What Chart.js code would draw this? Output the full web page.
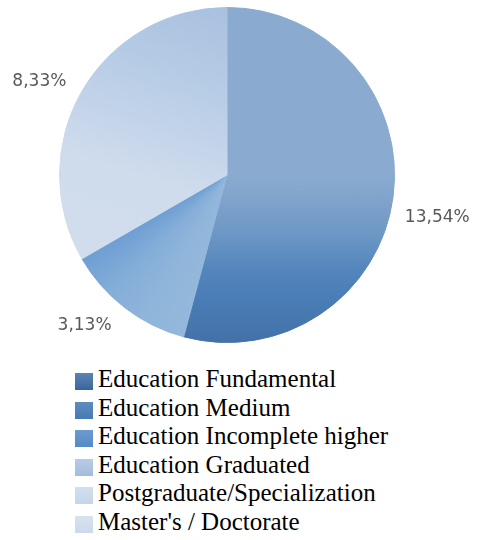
<!DOCTYPE html>
<html>
<head>
<meta charset="utf-8">
<script src="https://cdn.jsdelivr.net/npm/chart.js@4/dist/chart.umd.min.js"></script>
<style>
  html, body { margin: 0; padding: 0; background: #fff; }
  #wrap { position: relative; width: 477px; height: 540px; }
  #pieBox { position: absolute; left: 0; top: 0; width: 477px; height: 360px; }
  #legend { position: absolute; left: 75px; top: 365px; font-family: "Liberation Serif", "Times New Roman", serif; font-size: 25px; color: #000; }
  #legend .row { position: relative; height: 28.6px; line-height: 28.6px; white-space: nowrap; padding-left: 23px; }
  #legend .sw { position: absolute; left: 0; top: 8px; width: 18px; height: 17px; }
</style>
</head>
<body>
<div id="wrap">
  <div id="pieBox"><canvas id="pie"></canvas></div>
  <div id="legend"></div>
</div>
<script>
// categories (legend order)
const categories = [
  "Education Fundamental",
  "Education Medium",
  "Education Incomplete higher",
  "Education Graduated",
  "Postgraduate/Specialization",
  "Master's / Doctorate",
];

// slice sizes in % (clockwise from the top)
const shares = [0, 27.08, 27.08, 12.5, 33.33, 0];

// data label texts shown outside the pie
const shareLabels = ["", "", "13,54%", "3,13%", "8,33%", ""];

// legend swatch colours
const legendColors = [
  ["#5b84b3", "#3a6699"],
  ["#5f8cbf", "#467ab3"],
  ["#6c9bd0", "#5689c5"],
  ["#b7cce5", "#a3bcdc"],
  ["#d3dfee", "#c6d5e9"],
  ["#d8e2ef", "#ccd9eb"],
];

// where each data label sits: fraction along the slice and gap past the rim
const labelPlacement = [null, null, { t: 0.04, gap: 47 }, { t: 0.63, gap: 40 }, { t: 0.47, gap: 42 }, null];

// gradient fill for each slice, built from the pie centre and radius
function sliceFill(context) {
  const chart = context.chart;
  const area = chart.chartArea;
  const i = context.dataIndex;
  if (!area) return "#8aabcf";
  const g = chart.ctx;
  const cx = (area.left + area.right) / 2;
  const cy = (area.top + area.bottom) / 2;
  const r = Math.min(area.right - area.left, area.bottom - area.top) / 2;

  if (i === 1 || i === 2) {
    // shared vertical shading, flat on top and darkening downwards
    const lin = g.createLinearGradient(0, cy - r, 0, cy + r);
    lin.addColorStop(0, "#8aabcf");
    lin.addColorStop(0.5, "#8aabcf");
    lin.addColorStop(0.55, "#84a6cd");
    lin.addColorStop(0.67, "#6e98c5");
    lin.addColorStop(0.78, "#5486bd");
    lin.addColorStop(0.87, "#4a7db5");
    lin.addColorStop(1, "#4271a8");
    return lin;
  }
  if (i === 3) {
    // fan shading around the centre
    const con = g.createConicGradient(0, cx, cy);
    con.addColorStop(0, "#93b8db");
    con.addColorStop(104.8 / 360, "#93b8db");
    con.addColorStop(120 / 360, "#8fb5da");
    con.addColorStop(135 / 360, "#84add8");
    con.addColorStop(150.6 / 360, "#6d9ed3");
    con.addColorStop(1, "#6d9ed3");
    return con;
  }
  if (i === 4) {
    const dx = -0.3, dy = 0.95, len = 270;
    const lin = g.createLinearGradient(cx, cy - r, cx + dx * len, cy - r + dy * len);
    lin.addColorStop(0, "#a8c1df");
    lin.addColorStop(0.33, "#b8cde6");
    lin.addColorStop(0.58, "#c8d7eb");
    lin.addColorStop(0.7, "#cfdcec");
    lin.addColorStop(1, "#d1ddec");
    return lin;
  }
  return "#8aabcf";
}

// draws the % texts outside the rim
const outsideLabels = {
  id: "outsideLabels",
  afterDatasetsDraw(chart) {
    const ctx = chart.ctx;
    const arcs = chart.getDatasetMeta(0).data;
    ctx.save();
    ctx.font = "17px 'DejaVu Sans', Verdana, sans-serif";
    ctx.fillStyle = "#595959";
    ctx.textAlign = "center";
    ctx.textBaseline = "middle";
    arcs.forEach((arc, i) => {
      const text = shareLabels[i];
      const place = labelPlacement[i];
      if (!text || !place) return;
      const a = arc.startAngle + place.t * (arc.endAngle - arc.startAngle);
      const d = arc.outerRadius + place.gap;
      ctx.fillText(text, arc.x + Math.cos(a) * d, arc.y + Math.sin(a) * d);
    });
    ctx.restore();
  },
};

const chart = new Chart(document.getElementById("pie"), {
  type: "pie",
  data: {
    labels: categories,
    datasets: [
      {
        data: shares,
        backgroundColor: sliceFill,
        // stroke each slice in its own fill so no seams show between them
        borderColor: sliceFill,
        borderWidth: (c) => (c.raw > 0 ? 1 : 0),
        borderJoinStyle: "round",
        hoverOffset: 0,
        offset: 0,
      },
    ],
  },
  options: {
    responsive: true,
    maintainAspectRatio: false,
    animation: false,
    layout: {
      padding: { left: 59, right: 82, top: 7, bottom: 17 },
    },
    plugins: {
      legend: { display: false },
      tooltip: { enabled: false },
    },
  },
  plugins: [outsideLabels],
});

// legend list under the pie
const legendEl = document.getElementById("legend");
categories.forEach((name, i) => {
  const row = document.createElement("div");
  row.className = "row";
  const sw = document.createElement("span");
  sw.className = "sw";
  sw.style.background = `linear-gradient(${legendColors[i][0]}, ${legendColors[i][1]})`;
  row.appendChild(sw);
  row.appendChild(document.createTextNode(name));
  legendEl.appendChild(row);
});
</script>
</body>
</html>
